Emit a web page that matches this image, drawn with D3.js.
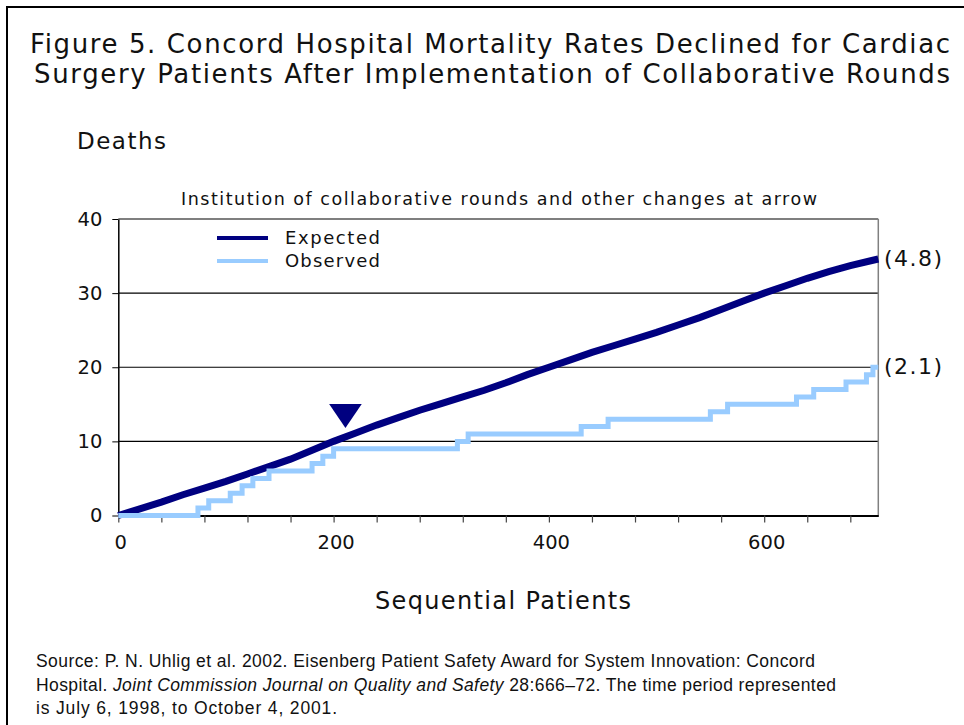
<!DOCTYPE html>
<html>
<head>
<meta charset="utf-8">
<script src="https://cdn.jsdelivr.net/npm/d3@7"></script>
<style>
  html, body { margin: 0; padding: 0; background: #fff; }
  svg { display: block; }
</style>
</head>
<body>
<svg id="chart" width="964" height="725"></svg>
<script>
// ---------------- data ----------------
const titleLines = [
  "Figure 5. Concord Hospital Mortality Rates Declined for Cardiac",
  "Surgery Patients After Implementation of Collaborative Rounds"
];
const yAxisTitle = "Deaths";
const xAxisTitle = "Sequential Patients";
const annotation = "Institution of collaborative rounds and other changes at arrow";
const seriesNames = ["Expected", "Observed"];
const endLabels = ["(4.8)", "(2.1)"];

// Expected cumulative deaths (read every 20 patients)
const expectedPatients = [0,20,40,60,80,100,120,140,160,180,200,220,240,260,280,300,320,340,360,380,400,
  420,440,460,480,500,520,540,560,580,600,620,640,660,680,700,706];
const expectedDeaths = [0,0.9,1.8,2.8,3.7,4.6,5.6,6.6,7.6,8.8,10.0,11.1,12.2,13.2,14.2,15.1,16.0,16.9,17.9,19.0,20.0,
  21.0,22.0,22.9,23.8,24.7,25.7,26.7,27.8,28.9,30.0,31.0,32.0,32.9,33.7,34.4,34.6];

// Observed cumulative deaths (step changes)
const observedPatients = [0,74,84,104,115,125,140,180,190,200,315,325,430,455,550,566,630,646,676,695,701,706];
const observedDeaths   = [0,1,2,3,4,5,6,7,8,9,10,11,12,13,14,15,16,17,18,19,20,20];

const arrowPatient = 211;
const arrowDeaths = 11.8;

const xDomain = [0, 706];
const yDomain = [0, 40];
const xTickValues = d3.range(0, 681, 40);
const xLabelValues = [0, 200, 400, 600];
const yTickValues = [0, 10, 20, 30, 40];

const sourceLines = [
  [{t: "Source: P. N. Uhlig et al. 2002. Eisenberg Patient Safety Award for System Innovation: Concord", i: false}],
  [{t: "Hospital. ", i: false}, {t: "Joint Commission Journal on Quality and Safety", i: true}, {t: " 28:666\u201372. The time period represented", i: false}],
  [{t: "is July 6, 1998, to October 4, 2001.", i: false}]
];

// ---------------- drawing ----------------
const svg = d3.select("#chart");
const FONT = "'DejaVu Sans', Verdana, sans-serif";
const NAVY = "#000080";
const LIGHT = "#99CCFF";

// frame (top/left visible)
svg.append("rect").attr("x", 7).attr("y", 7).attr("width", 1000).attr("height", 1000)
  .attr("fill", "none").attr("stroke", "#000").attr("stroke-width", 2);

function fitText(sel, width) {
  sel.attr("textLength", width).attr("lengthAdjust", "spacing");
}

// title
const titleX = [[30, 950], [34, 950]];
const titleY = [53, 83];
titleLines.forEach((t, i) => {
  svg.append("text").attr("x", titleX[i][0]).attr("y", titleY[i])
    .attr("font-family", FONT).attr("font-size", 26).attr("fill", "#111")
    .call(fitText, titleX[i][1] - titleX[i][0])
    .text(t);
});

svg.append("text").attr("x", 77).attr("y", 149)
  .attr("font-family", FONT).attr("font-size", 23).attr("fill", "#111")
  .call(fitText, 89).text(yAxisTitle);

svg.append("text").attr("x", 181).attr("y", 205)
  .attr("font-family", FONT).attr("font-size", 17.5).attr("fill", "#111")
  .call(fitText, 636).text(annotation);

const x = d3.scaleLinear().domain(xDomain).range([118.3, 878.3]);
const y = d3.scaleLinear().domain(yDomain).range([515.5, 219]);

// gridlines
svg.append("g").selectAll("line").data(yTickValues.filter(v => v > 0)).join("line")
  .attr("x1", x(xDomain[0])).attr("x2", x(xDomain[1]))
  .attr("y1", d => y(d)).attr("y2", d => y(d))
  .attr("stroke", "#000").attr("stroke-width", 1.2);

// right border
svg.append("line").attr("x1", x(xDomain[1])).attr("x2", x(xDomain[1]))
  .attr("y1", y(40)).attr("y2", y(0)).attr("stroke", "#808080").attr("stroke-width", 1.5);

// y axis
const yAxis = d3.axisLeft(y).tickValues(yTickValues).tickSize(6).tickSizeOuter(0).tickPadding(10);
const gy = svg.append("g").attr("transform", `translate(${x(0)},0)`).call(yAxis);
gy.select(".domain").attr("stroke", "#000").attr("stroke-width", 1.5);
gy.selectAll(".tick line").attr("stroke", "#000");
gy.selectAll("text").attr("font-family", FONT).attr("font-size", 19.5).attr("fill", "#111");

// x axis
const xAxis = d3.axisBottom(x).tickValues(xTickValues).tickSize(7).tickSizeOuter(0).tickPadding(13)
  .tickFormat(d => xLabelValues.includes(d) ? d : "");
const gx = svg.append("g").attr("transform", `translate(0,${y(0)})`).call(xAxis);
gx.select(".domain").attr("stroke", "#000").attr("stroke-width", 2);
gx.selectAll(".tick line").attr("stroke", "#444").attr("stroke-width", 1.2);
gx.selectAll("text").attr("font-family", FONT).attr("font-size", 19.5).attr("fill", "#111")
  .attr("dx", 2);

// lines
const expData = expectedPatients.map((p, i) => [p, expectedDeaths[i]]);
const obsData = observedPatients.map((p, i) => [p, observedDeaths[i]]);

svg.append("path").datum(expData)
  .attr("d", d3.line().x(d => x(d[0])).y(d => y(d[1])))
  .attr("fill", "none").attr("stroke", NAVY).attr("stroke-width", 7);

svg.append("path").datum(obsData)
  .attr("d", d3.line().x(d => x(d[0])).y(d => y(d[1])).curve(d3.curveStepAfter))
  .attr("fill", "none").attr("stroke", LIGHT).attr("stroke-width", 5);

// arrow
const ax = x(arrowPatient), ay = y(arrowDeaths);
svg.append("path")
  .attr("d", `M${ax - 16.3},${ay - 24}L${ax + 16.3},${ay - 24}L${ax},${ay}Z`)
  .attr("fill", NAVY);

// legend
const legendY = [238, 261];
const legendColors = [NAVY, LIGHT];
seriesNames.forEach((n, i) => {
  svg.append("line").attr("x1", 217).attr("x2", 268).attr("y1", legendY[i]).attr("y2", legendY[i])
    .attr("stroke", legendColors[i]).attr("stroke-width", 4);
  svg.append("text").attr("x", 285).attr("y", legendY[i]).attr("dy", "0.36em")
    .attr("font-family", FONT).attr("font-size", 18).attr("fill", "#111")
    .call(fitText, 95).text(n);
});

// end labels
const endValues = [expectedDeaths[expectedDeaths.length - 1], observedDeaths[observedDeaths.length - 1]];
endLabels.forEach((t, i) => {
  svg.append("text").attr("x", 884).attr("y", y(endValues[i]) - 1).attr("dy", "0.36em")
    .attr("font-family", FONT).attr("font-size", 22).attr("fill", "#111")
    .call(fitText, 58).text(t);
});

// x axis title
svg.append("text").attr("x", 375).attr("y", 609)
  .attr("font-family", FONT).attr("font-size", 24).attr("fill", "#111")
  .call(fitText, 256).text(xAxisTitle);

// source
const srcY = [667, 691, 714];
const srcW = [779, 800, 301];
sourceLines.forEach((line, i) => {
  const t = svg.append("text").attr("x", 36).attr("y", srcY[i])
    .attr("font-family", "'Liberation Sans', Arial, sans-serif").attr("font-size", 17.5).attr("fill", "#111")
    .call(fitText, srcW[i]);
  line.forEach(seg => {
    t.append("tspan").attr("font-style", seg.i ? "italic" : "normal").text(seg.t);
  });
});
</script>
</body>
</html>
